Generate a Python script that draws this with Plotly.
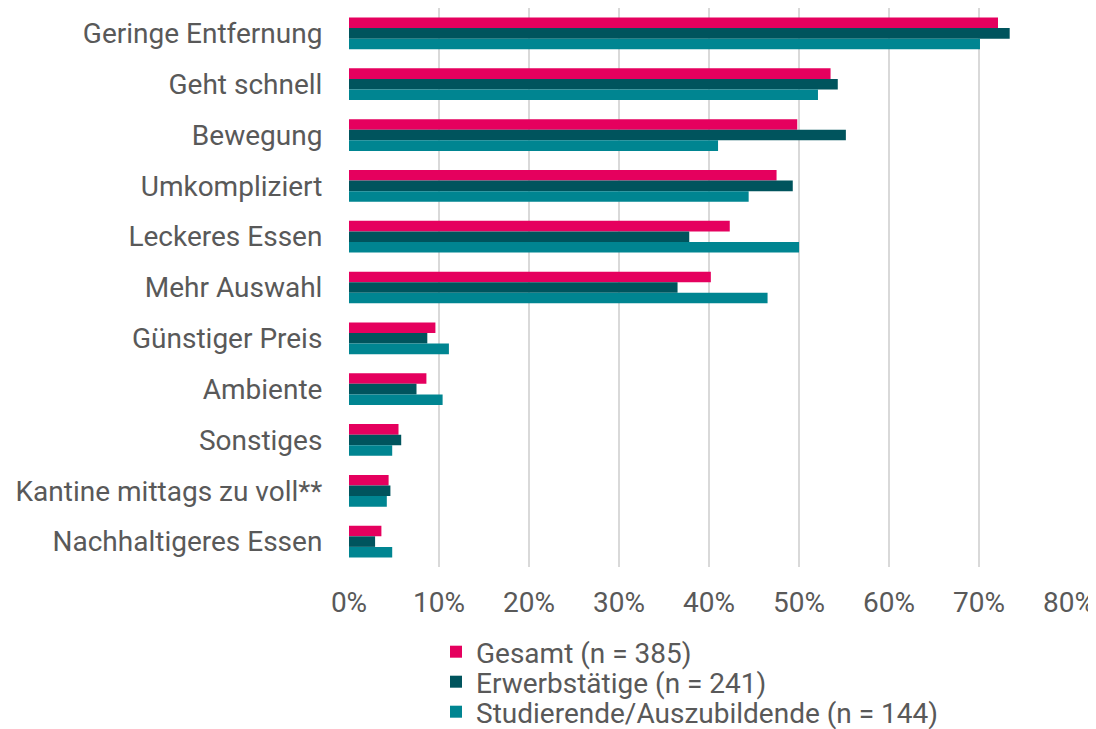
import plotly.graph_objects as go

categories = ["Geringe Entfernung", "Geht schnell", "Bewegung", "Umkompliziert",
              "Leckeres Essen", "Mehr Auswahl", "Günstiger Preis", "Ambiente",
              "Sonstiges", "Kantine mittags zu voll**", "Nachhaltigeres Essen"]
gesamt = [72.1, 53.5, 49.8, 47.5, 42.3, 40.2, 9.6, 8.6, 5.5, 4.4, 3.6]
erwerb = [73.4, 54.3, 55.2, 49.3, 37.8, 36.5, 8.7, 7.5, 5.8, 4.6, 2.9]
stud = [70.1, 52.1, 41.0, 44.4, 50.0, 46.5, 11.1, 10.4, 4.8, 4.2, 4.8]
series_names = ["Gesamt (n = 385)", "Erwerbstätige (n = 241)", "Studierende/Auszubildende (n = 144)"]
colors = ["#E5005E", "#00545D", "#008591"]
x_ticks = [0, 10, 20, 30, 40, 50, 60, 70, 80]

# page body has an 8px margin -> figure is drawn at (8, 8)
OFF = 8
W, H = 1096 - OFF, 729 - OFF
L, R, T, B = 349 - OFF, 26, 8 - OFF, 162
plot_h = H - T - B
font_color = "#595959"
FS = 28

legend_names = ["legend", "legend2", "legend3"]
legend_px_y = [652 - OFF, 682 - OFF, 712 - OFF]
legend_px_x = 436 - OFF

fig = go.Figure()
for name, vals, col, lg in zip(series_names, [gesamt, erwerb, stud], colors, legend_names):
    fig.add_trace(go.Bar(y=categories, x=vals, name=name, orientation="h",
                         legend=lg,
                         marker=dict(color=col, line=dict(width=0))))

legend_layout = {}
for lg, py in zip(legend_names, legend_px_y):
    legend_layout[lg] = dict(x=(legend_px_x - L) / (W - L - R), y=(H - B - py) / plot_h,
                             xanchor="left", yanchor="middle",
                             font=dict(size=FS, color=font_color, family="Roboto"),
                             bgcolor="rgba(0,0,0,0)", itemclick=False,
                             borderwidth=0)

fig.update_layout(
    width=W, height=H,
    margin=dict(l=L, r=R, t=T, b=B, autoexpand=False),
    barmode="group", bargap=0.376, bargroupgap=0,
    plot_bgcolor="white", paper_bgcolor="white",
    font=dict(family="Roboto", size=FS, color=font_color),
    showlegend=True,
    xaxis=dict(range=[0, 80.1], tickvals=x_ticks,
               ticktext=[f"{v}%" for v in x_ticks],
               showgrid=True, gridcolor="#D9D9D9", gridwidth=2,
               zeroline=False, showline=False, automargin=False,
               ticks="outside", ticklen=10, tickcolor="rgba(0,0,0,0)",
               tickfont=dict(size=FS, color=font_color)),
    yaxis=dict(categoryorder="array", categoryarray=categories,
               autorange="reversed", showgrid=False, zeroline=False,
               showline=False, ticks="outside", ticklen=20, automargin=False,
               tickcolor="rgba(0,0,0,0)",
               tickfont=dict(size=FS, color=font_color)),
    **legend_layout,
)

fig.write_html("out.html")
